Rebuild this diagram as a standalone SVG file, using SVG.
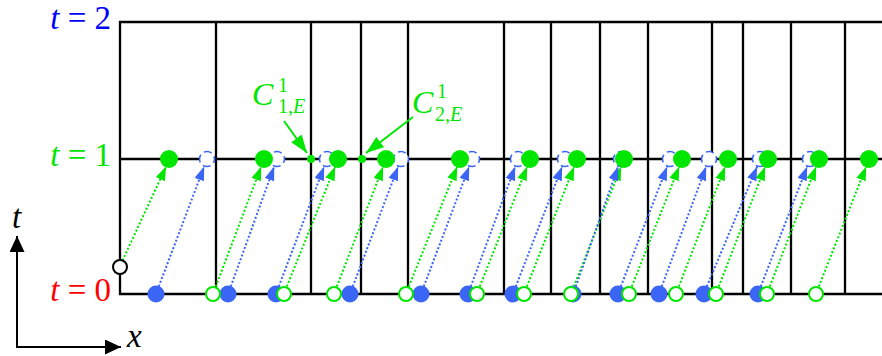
<svg xmlns="http://www.w3.org/2000/svg" width="882" height="356" viewBox="0 0 882 356">
<style>
.grid{stroke:#000;stroke-width:2.3;fill:none}
.gl{stroke:#00e600;stroke-width:2;stroke-dasharray:2 2;fill:none}
.bl{stroke:#3b66f5;stroke-width:2;stroke-dasharray:2 2;fill:none}
.gf{fill:#00e600}
.go{fill:#fff;stroke:#00e600;stroke-width:2}
.bf{fill:#3b66f5}
.bd{fill:#fff;stroke:#3b66f5;stroke-width:1.6;stroke-dasharray:8 4;stroke-dashoffset:-8}
.lbl{font-family:"Liberation Serif","Times New Roman",serif;font-size:33px}
.cl{font-family:"Liberation Serif","Times New Roman",serif;font-size:32px}
.it{font-style:italic}
.sub{font-family:"Liberation Serif","Times New Roman",serif;font-size:20px}
</style>
<defs>
<marker id="ag" markerWidth="16" markerHeight="11" refX="14" refY="5" orient="auto" markerUnits="userSpaceOnUse"><path d="M0,0 L14,5 L0,10 z" fill="#00e600"/></marker>
<marker id="ab" markerWidth="16" markerHeight="11" refX="14" refY="5" orient="auto" markerUnits="userSpaceOnUse"><path d="M0,0 L14,5 L0,10 z" fill="#3b66f5"/></marker>
<marker id="ac" markerWidth="20" markerHeight="14" refX="18" refY="6.5" orient="auto" markerUnits="userSpaceOnUse"><path d="M0,0 L18,6.5 L0,13 z" fill="#00e600"/></marker>
<marker id="ak" markerWidth="18" markerHeight="16" refX="16" refY="7.5" orient="auto" markerUnits="userSpaceOnUse"><path d="M0,0 L16,7.5 L0,15 z" fill="#000"/></marker>
</defs>

<g id="grid" class="grid">
<line x1="119" y1="22" x2="882" y2="22"/>
<line x1="120" y1="159" x2="882" y2="159"/>
<line x1="119" y1="294" x2="882" y2="294"/>
<line x1="120" y1="21" x2="120" y2="295"/>
<line x1="216" y1="21" x2="216" y2="295"/>
<line x1="311" y1="21" x2="311" y2="295"/>
<line x1="361" y1="21" x2="361" y2="295"/>
<line x1="408" y1="21" x2="408" y2="295"/>
<line x1="504" y1="21" x2="504" y2="295"/>
<line x1="551" y1="21" x2="551" y2="295"/>
<line x1="600" y1="21" x2="600" y2="295"/>
<line x1="648" y1="21" x2="648" y2="295"/>
<line x1="712" y1="21" x2="712" y2="295"/>
<line x1="743" y1="21" x2="743" y2="295"/>
<line x1="791" y1="21" x2="791" y2="295"/>
<line x1="845" y1="21" x2="845" y2="295"/>
</g>

<g id="axes">
<line x1="17" y1="348" x2="17" y2="236" stroke="#000" stroke-width="2" marker-end="url(#ak)"/>
<line x1="16" y1="347" x2="121" y2="347" stroke="#000" stroke-width="2" marker-end="url(#ak)"/>
<text class="lbl it" x="12" y="228">t</text>
<text class="lbl it" x="127" y="347">x</text>
</g>

<g id="labels">
<text class="lbl" x="111" y="29" text-anchor="end" fill="#0000ff"><tspan class="it">t</tspan> = 2</text>
<text class="lbl" x="111" y="166" text-anchor="end" fill="#00e600"><tspan class="it">t</tspan> = 1</text>
<text class="lbl" x="111" y="301" text-anchor="end" fill="#ff0000"><tspan class="it">t</tspan> = 0</text>
</g>

<g id="connectors">
<line class="gl" x1="122.5" y1="260.5" x2="166.2" y2="166.5" marker-end="url(#ag)"/>
<line class="gl" x1="215.8" y1="286.5" x2="261.2" y2="166.5" marker-end="url(#ag)"/>
<line class="gl" x1="286.8" y1="286.5" x2="335.2" y2="166.5" marker-end="url(#ag)"/>
<line class="gl" x1="336.8" y1="286.5" x2="383.2" y2="166.5" marker-end="url(#ag)"/>
<line class="gl" x1="408.8" y1="286.5" x2="457.2" y2="166.5" marker-end="url(#ag)"/>
<line class="gl" x1="479.8" y1="286.5" x2="527.2" y2="166.5" marker-end="url(#ag)"/>
<line class="gl" x1="526.8" y1="286.5" x2="574.2" y2="166.5" marker-end="url(#ag)"/>
<line class="gl" x1="573.8" y1="286.5" x2="621.2" y2="166.5" marker-end="url(#ag)"/>
<line class="gl" x1="631.8" y1="286.5" x2="679.2" y2="166.5" marker-end="url(#ag)"/>
<line class="gl" x1="678.8" y1="286.5" x2="725.2" y2="166.5" marker-end="url(#ag)"/>
<line class="gl" x1="718.8" y1="286.5" x2="765.2" y2="166.5" marker-end="url(#ag)"/>
<line class="gl" x1="769.8" y1="286.5" x2="816.2" y2="166.5" marker-end="url(#ag)"/>
<line class="gl" x1="818.8" y1="286.5" x2="866.2" y2="166.5" marker-end="url(#ag)"/>

<line class="bl" x1="158.8" y1="286.5" x2="204.2" y2="166.5" marker-end="url(#ab)"/>
<line class="bl" x1="230.8" y1="286.5" x2="274.2" y2="166.5" marker-end="url(#ab)"/>
<line class="bl" x1="278.8" y1="286.5" x2="324.2" y2="166.5" marker-end="url(#ab)"/>
<line class="bl" x1="352.8" y1="286.5" x2="398.2" y2="166.5" marker-end="url(#ab)"/>
<line class="bl" x1="423.8" y1="286.5" x2="469.2" y2="166.5" marker-end="url(#ab)"/>
<line class="bl" x1="470.8" y1="286.5" x2="515.2" y2="166.5" marker-end="url(#ab)"/>
<line class="bl" x1="515.8" y1="286.5" x2="562.2" y2="166.5" marker-end="url(#ab)"/>
<line class="bl" x1="575.8" y1="286.5" x2="618.2" y2="166.5" marker-end="url(#ab)"/>
<line class="bl" x1="620.8" y1="286.5" x2="667.2" y2="166.5" marker-end="url(#ab)"/>
<line class="bl" x1="661.8" y1="286.5" x2="706.2" y2="166.5" marker-end="url(#ab)"/>
<line class="bl" x1="706.8" y1="286.5" x2="757.2" y2="166.5" marker-end="url(#ab)"/>
<line class="bl" x1="760.8" y1="286.5" x2="807.2" y2="166.5" marker-end="url(#ab)"/>

<line x1="284" y1="121" x2="307" y2="153" stroke="#00e600" stroke-width="2" marker-end="url(#ac)"/>
<line x1="413" y1="117" x2="366" y2="153" stroke="#00e600" stroke-width="2" marker-end="url(#ac)"/>
</g>

<g id="t1-blue">
<g id="b1-1"><circle class="bd" cx="207" cy="159" r="7.5"/></g>
<g id="b1-2"><circle class="bd" cx="277" cy="159" r="7.5"/></g>
<g id="b1-3"><circle class="bd" cx="327" cy="159" r="7.5"/></g>
<g id="b1-4"><circle class="bd" cx="401" cy="159" r="7.5"/></g>
<g id="b1-5"><circle class="bd" cx="472" cy="159" r="7.5"/></g>
<g id="b1-6"><circle class="bd" cx="518" cy="159" r="7.5"/></g>
<g id="b1-7"><circle class="bd" cx="565" cy="159" r="7.5"/></g>
<g id="b1-8"><circle class="bd" cx="621" cy="159" r="7.5"/></g>
<g id="b1-9"><circle class="bd" cx="670" cy="159" r="7.5"/></g>
<g id="b1-10"><circle class="bd" cx="709" cy="159" r="7.5"/></g>
<g id="b1-11"><circle class="bd" cx="760" cy="159" r="7.5"/></g>
<g id="b1-12"><circle class="bd" cx="810" cy="159" r="7.5"/></g>
</g>
<g id="t1-green">
<g id="g1-1"><circle class="gf" cx="169" cy="159" r="9"/></g>
<g id="g1-2"><circle class="gf" cx="264" cy="159" r="9"/></g>
<g id="g1-3"><circle class="gf" cx="338" cy="159" r="9"/></g>
<g id="g1-4"><circle class="gf" cx="386" cy="159" r="9"/></g>
<g id="g1-5"><circle class="gf" cx="460" cy="159" r="9"/></g>
<g id="g1-6"><circle class="gf" cx="530" cy="159" r="9"/></g>
<g id="g1-7"><circle class="gf" cx="577" cy="159" r="9"/></g>
<g id="g1-8"><circle class="gf" cx="624" cy="159" r="9"/></g>
<g id="g1-9"><circle class="gf" cx="682" cy="159" r="9"/></g>
<g id="g1-10"><circle class="gf" cx="728" cy="159" r="9"/></g>
<g id="g1-11"><circle class="gf" cx="768" cy="159" r="9"/></g>
<g id="g1-12"><circle class="gf" cx="819" cy="159" r="9"/></g>
<g id="g1-13"><circle class="gf" cx="869" cy="159" r="9"/></g>
<g id="c1e"><circle class="gf" cx="311" cy="159" r="4"/></g>
<g id="c2e"><circle class="gf" cx="362" cy="159" r="4"/></g>
</g>

<g id="t0-blue">
<g id="b0-1"><circle class="bf" cx="156" cy="294" r="8.5"/></g>
<g id="b0-2"><circle class="bf" cx="228" cy="294" r="8.5"/></g>
<g id="b0-3"><circle class="bf" cx="276" cy="294" r="8.5"/></g>
<g id="b0-4"><circle class="bf" cx="350" cy="294" r="8.5"/></g>
<g id="b0-5"><circle class="bf" cx="421" cy="294" r="8.5"/></g>
<g id="b0-6"><circle class="bf" cx="468" cy="294" r="8.5"/></g>
<g id="b0-7"><circle class="bf" cx="513" cy="294" r="8.5"/></g>
<g id="b0-8"><circle class="bf" cx="573" cy="294" r="8.5"/></g>
<g id="b0-9"><circle class="bf" cx="618" cy="294" r="8.5"/></g>
<g id="b0-10"><circle class="bf" cx="659" cy="294" r="8.5"/></g>
<g id="b0-11"><circle class="bf" cx="704" cy="294" r="8.5"/></g>
<g id="b0-12"><circle class="bf" cx="758" cy="294" r="8.5"/></g>
</g>
<g id="t0-green">
<g id="src0"><circle cx="120" cy="267" r="7" fill="#fff" stroke="#000" stroke-width="2"/></g>
<g id="g0-1"><circle class="go" cx="213" cy="294" r="7"/></g>
<g id="g0-2"><circle class="go" cx="284" cy="294" r="7"/></g>
<g id="g0-3"><circle class="go" cx="334" cy="294" r="7"/></g>
<g id="g0-4"><circle class="go" cx="406" cy="294" r="7"/></g>
<g id="g0-5"><circle class="go" cx="477" cy="294" r="7"/></g>
<g id="g0-6"><circle class="go" cx="524" cy="294" r="7"/></g>
<g id="g0-7"><circle class="go" cx="571" cy="294" r="7"/></g>
<g id="g0-8"><circle class="go" cx="629" cy="294" r="7"/></g>
<g id="g0-9"><circle class="go" cx="676" cy="294" r="7"/></g>
<g id="g0-10"><circle class="go" cx="716" cy="294" r="7"/></g>
<g id="g0-11"><circle class="go" cx="767" cy="294" r="7"/></g>
<g id="g0-12"><circle class="go" cx="816" cy="294" r="7"/></g>
</g>

<g id="clabels" fill="#00e600">
<text class="cl it" x="252" y="105">C</text>
<text class="sub" x="278" y="92">1</text>
<text class="sub" x="278" y="113">1,<tspan class="it">E</tspan></text>
<text class="cl it" x="412" y="113">C</text>
<text class="sub" x="437" y="98">1</text>
<text class="sub" x="435" y="121">2,<tspan class="it">E</tspan></text>
</g>
</svg>
